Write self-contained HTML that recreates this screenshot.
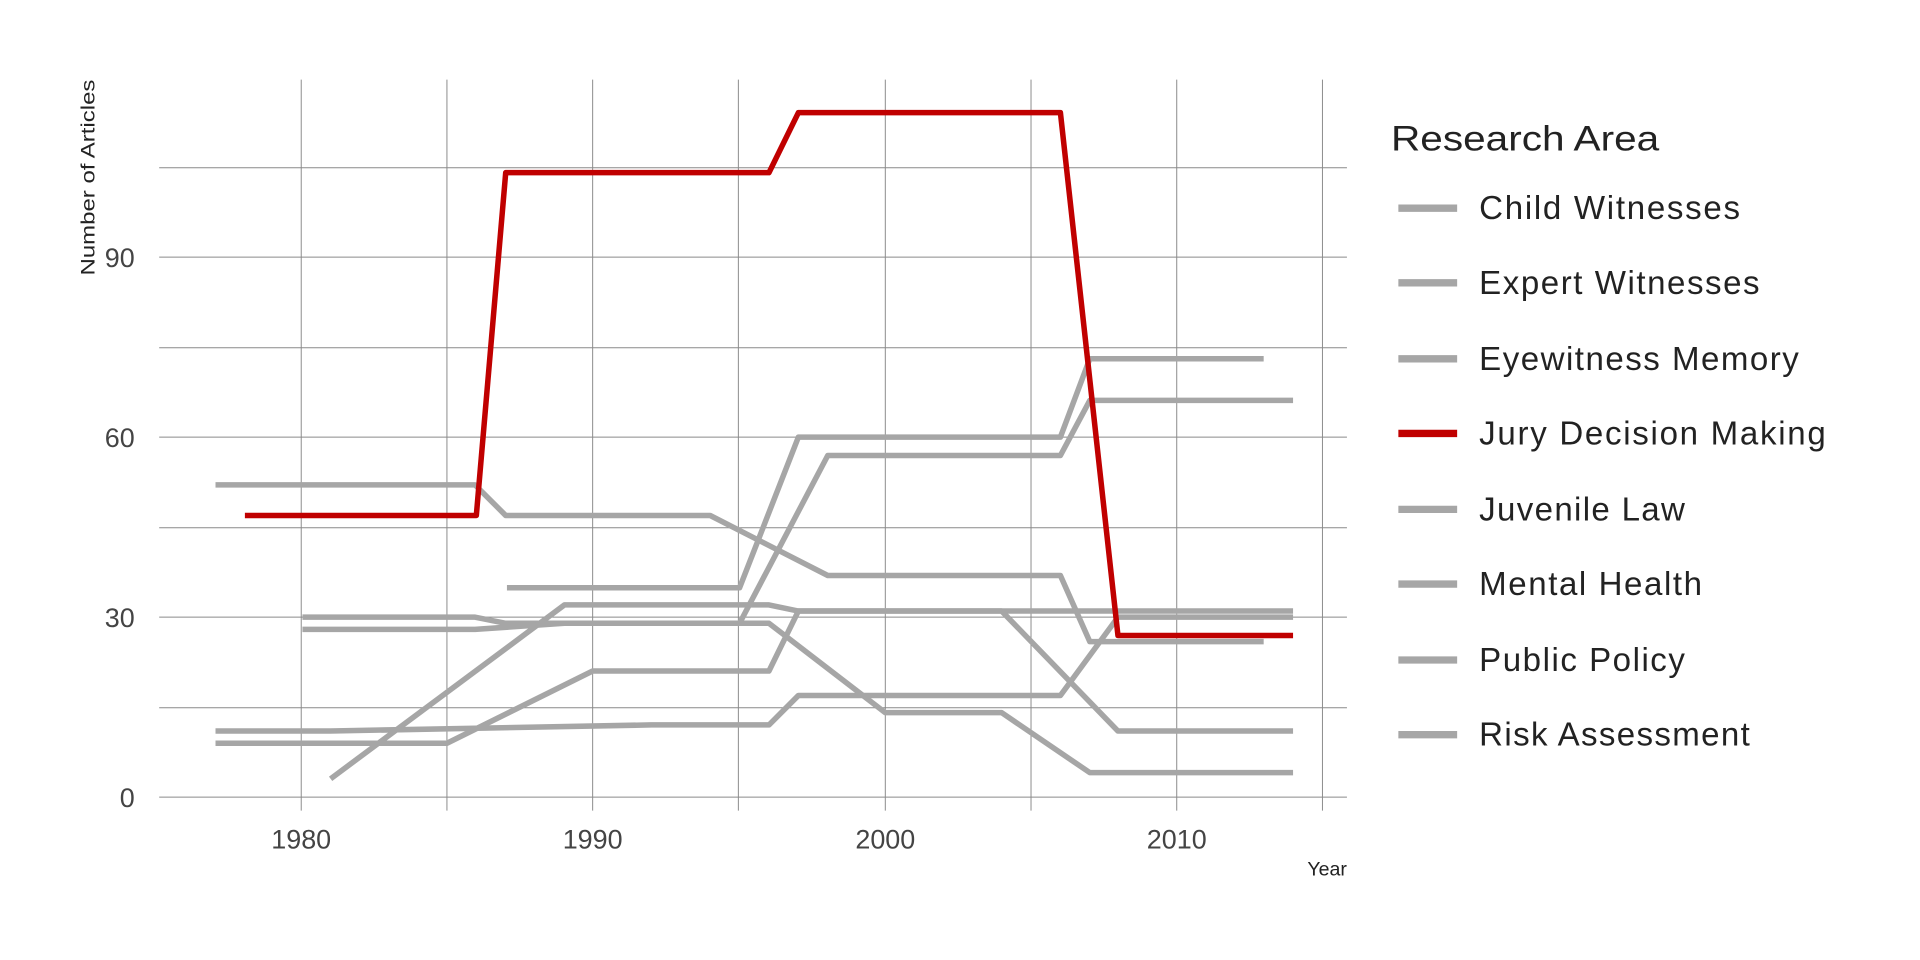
<!DOCTYPE html>
<html><head><meta charset="utf-8"><style>html,body{margin:0;padding:0;background:#fff}svg{display:block}</style></head>
<body>
<svg width="1920" height="960" viewBox="0 0 1568 784" xmlns="http://www.w3.org/2000/svg" font-family="Liberation Sans, sans-serif">
<g stroke="#8a8a8a" stroke-width="0.8">
<line x1="130" x2="1100" y1="137" y2="137"/><line x1="130" x2="1100" y1="210" y2="210"/><line x1="130" x2="1100" y1="284" y2="284"/><line x1="130" x2="1100" y1="357" y2="357"/><line x1="130" x2="1100" y1="431" y2="431"/><line x1="130" x2="1100" y1="504" y2="504"/><line x1="130" x2="1100" y1="578" y2="578"/><line x1="130" x2="1100" y1="651" y2="651"/>
<line y1="65" y2="662" x1="246" x2="246"/><line y1="65" y2="662" x1="365" x2="365"/><line y1="65" y2="662" x1="484" x2="484"/><line y1="65" y2="662" x1="603" x2="603"/><line y1="65" y2="662" x1="723" x2="723"/><line y1="65" y2="662" x1="842" x2="842"/><line y1="65" y2="662" x1="961" x2="961"/><line y1="65" y2="662" x1="1080" x2="1080"/>
</g>
<g fill="none" stroke="#a6a6a6" stroke-width="4.5" stroke-linejoin="round">
<polyline points="176,396 388,396 413,421 580,421 676,470 866,470 890,524 1032,524"/>
<polyline points="414,480 604,480 652,357 866,357 890,293 1032,293"/>
<polyline points="247,504 388,504 413,509 604,509 676,372 866,372 890,327 1056,327"/>
<polyline points="247,514 388,514 461,509 628,509 723,582 818,582 890,631 1056,631"/>
<polyline points="270,636 461,494 628,494 652,499 818,499 913,597 1056,597"/>
<polyline points="176,607 365,607 484,548 628,548 652,499 1056,499"/>
<polyline points="176,597 270,597 532,592 628,592 652,568 866,568 913,504 1056,504"/>
</g>
<polyline fill="none" stroke="#c00000" stroke-width="4.5" stroke-linejoin="round" points="200,421 389,421 413,141 628,141 652,92 866,92 913,519 1056,519"/>
<g fill="#444" font-size="22">
<text x="110" y="659" text-anchor="end">0</text><text x="110" y="512" text-anchor="end">30</text><text x="110" y="365" text-anchor="end">60</text><text x="110" y="218" text-anchor="end">90</text>
<text x="246" y="693" text-anchor="middle">1980</text><text x="484" y="693" text-anchor="middle">1990</text><text x="723" y="693" text-anchor="middle">2000</text><text x="961" y="693" text-anchor="middle">2010</text>
</g>
<text x="1100" y="715" text-anchor="end" font-size="16" fill="#222">Year</text>
<text transform="translate(77,145) rotate(-90)" text-anchor="middle" font-size="16" fill="#222" textLength="160" lengthAdjust="spacingAndGlyphs">Number of Articles</text>
<text x="1136" y="123" font-size="29" fill="#222" textLength="219" lengthAdjust="spacingAndGlyphs">Research Area</text>
<g stroke-width="6">
<line x1="1142" x2="1190" y1="170" y2="170" stroke="#a6a6a6"/><line x1="1142" x2="1190" y1="231" y2="231" stroke="#a6a6a6"/><line x1="1142" x2="1190" y1="293" y2="293" stroke="#a6a6a6"/><line x1="1142" x2="1190" y1="354" y2="354" stroke="#c00000"/><line x1="1142" x2="1190" y1="416" y2="416" stroke="#a6a6a6"/><line x1="1142" x2="1190" y1="477" y2="477" stroke="#a6a6a6"/><line x1="1142" x2="1190" y1="539" y2="539" stroke="#a6a6a6"/><line x1="1142" x2="1190" y1="600" y2="600" stroke="#a6a6a6"/>
</g>
<g font-size="27" fill="#222" lengthAdjust="spacingAndGlyphs">
<text x="1208" y="179" textLength="213">Child Witnesses</text><text x="1208" y="240" textLength="229">Expert Witnesses</text><text x="1208" y="302" textLength="261">Eyewitness Memory</text><text x="1208" y="363" textLength="283">Jury Decision Making</text><text x="1208" y="425" textLength="168">Juvenile Law</text><text x="1208" y="486" textLength="182">Mental Health</text><text x="1208" y="548" textLength="168">Public Policy</text><text x="1208" y="609" textLength="221">Risk Assessment</text>
</g>
</svg>
</body></html>
